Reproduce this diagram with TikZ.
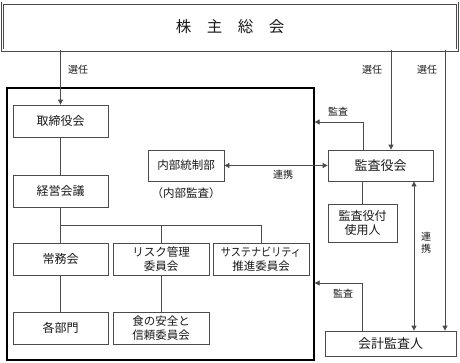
\documentclass[tikz,border=0pt]{standalone}
\usepackage{fontspec}
\setmainfont{Noto Sans CJK JP}
\usetikzlibrary{arrows.meta}
\definecolor{linec}{RGB}{75,75,75}
\definecolor{txtc}{RGB}{25,25,25}
\begin{document}
\begin{tikzpicture}[x=1pt,y=-1pt,
  box/.style={draw=linec,line width=0.8pt,inner sep=0pt,align=center,text=txtc,font=\fontsize{12}{14}\selectfont},
  conn/.style={draw=linec,line width=0.8pt},
  arr/.style={conn,-{Triangle[length=5pt,width=5pt]}},
  arrb/.style={conn,{Triangle[length=5pt,width=5pt]}-{Triangle[length=5pt,width=5pt]}},
  lbl/.style={inner sep=0pt,text=txtc,font=\fontsize{10}{11}\selectfont}]
\fill[white] (0,0) rectangle (460,362);
\useasboundingbox (0,0) rectangle (460,362);
% top box
\node[draw=linec,double=white,double distance=1.6pt,line width=0.7pt,minimum width=455pt,minimum height=47pt,inner sep=0pt,text=txtc,font=\fontsize{15.5}{17}\selectfont] (kabu) at (230,26.5) {株　主　総　会};
% frame
\node[draw=black,line width=1.3pt,minimum width=307pt,minimum height=272pt,inner sep=0pt] (frame) at (160.5,224) {};
% boxes
\node[box,minimum width=95pt,minimum height=32pt] (ta) at (60.5,121) {取締役会};
\node[box,minimum width=95pt,minimum height=32pt] (kk) at (60.5,191) {経営会議};
\node[box,minimum width=95pt,minimum height=32pt] (jm) at (60.5,259) {常務会};
\node[box,minimum width=96pt,minimum height=32pt,font=\fontsize{11.5}{13.5}\selectfont] (rk) at (161,259) {リスク管理\\委員会};
\node[box,minimum width=96pt,minimum height=32pt,font=\fontsize{11.5}{13.5}\selectfont] (ss) at (261,259) {\scalebox{0.88}[1]{サステナビリティ}\\推進委員会};
\node[box,minimum width=95pt,minimum height=32pt] (kb) at (60.5,328) {各部門};
\node[box,minimum width=96pt,minimum height=32pt,font=\fontsize{11.5}{13.5}\selectfont] (sy) at (161,328) {食の安全と\\信頼委員会};
\node[box,minimum width=76pt,minimum height=31pt,font=\fontsize{11.5}{13.5}\selectfont] (nb) at (186,165.5) {内部統制部};
\node[lbl,font=\fontsize{11.5}{13.5}\selectfont] (nbl) at (186,193) {（内部監査）};
\node[box,minimum width=105pt,minimum height=31pt,font=\fontsize{13}{15}\selectfont] (ka) at (380.5,165.5) {監査役会};
\node[box,minimum width=69pt,minimum height=38pt,font=\fontsize{12}{14}\selectfont] (ks) at (362.5,223) {監査役付\\使用人};
\node[box,minimum width=131pt,minimum height=25pt,font=\fontsize{13}{15}\selectfont] (kg) at (390.5,343.5) {会計監査人};
% helper coordinates
\coordinate (j) at (60.5,225);
\coordinate (a1) at (363,122);
\coordinate (a2) at (362,283);
\coordinate (r) at (414,0);
\coordinate (s1) at (391,0);
\coordinate (s2) at (445,0);
% connectors
\draw[arr] (ta.north |- kabu.south) -- (ta.north);
\draw[arr] (s1 |- kabu.south) -- (s1 |- ka.north);
\draw[arr] (s2 |- kabu.south) -- (s2 |- kg.north);
\draw[conn] (ta.south) -- (kk.north);
\draw[conn] (kk.south) -- (jm.north);
\draw[conn] (j) -| (ss.north);
\draw[conn] (rk.north |- j) -- (rk.north);
\draw[conn] (jm.south) -- (kb.north);
\draw[conn] (rk.south) -- (sy.north);
\draw[conn] (ks.north |- ka.south) -- (ks.north);
\draw[arrb] (nb.east) -- (ka.west);
\draw[arrb] (r |- ka.south) -- (r |- kg.north);
\draw[arr] (a1 |- ka.north) |- (a1 -| frame.east);
\draw[arr] (a2 |- kg.north) |- (a2 -| frame.east);
% labels
\node[lbl] (l1) at (78,70) {選任};
\node[lbl] (l2) at (372,70) {選任};
\node[lbl] (l3) at (427,70) {選任};
\node[lbl] (l4) at (338,112) {監査};
\node[lbl] (l5) at (343,294) {監査};
\node[lbl] (l6) at (283,175) {連携};
\node[lbl,align=center,font=\fontsize{10}{12}\selectfont] (l7) at (426,243) {連\\携};
\end{tikzpicture}
\end{document}
